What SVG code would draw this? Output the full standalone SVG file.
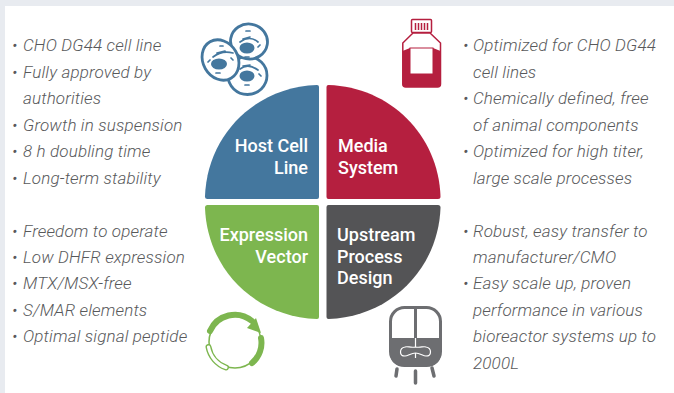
<svg xmlns="http://www.w3.org/2000/svg" width="674" height="393" viewBox="0 0 674 393">
<style>
.t{font-family:Roboto,"Liberation Sans",sans-serif;font-style:italic;font-weight:300;font-size:17px;letter-spacing:.15px;fill:#58595b}
.h{font-family:Roboto,"Liberation Sans",sans-serif;font-weight:500;font-size:18px;fill:#fff}
.e{text-anchor:end}
.cs{fill:#fff;stroke:#44779e;stroke-width:2.800}
.cn{fill:#44779e}
.co{fill:none;stroke:#44779e;stroke-width:1.700;stroke-linecap:round}
.pl{fill:none;stroke:#7db64f}
</style>
<rect width="674" height="393" fill="#e8ebf0"/>
<rect x="5" y="6" width="669" height="387" fill="#fff"/>
<g id="quadrant-host"><path d="M317 85Q319 85 319 87V197Q319 199 317 199H207.500Q205 199 205 196.500C207 135 255 87 317 85Z" fill="#44779e"/>
<text class="h e" x="308" y="152">Host Cell</text><text class="h e" x="308" y="174">Line</text></g>
<g id="quadrant-media"><path d="M328.500 85Q326.500 85 326.500 87V197Q326.500 199 328.500 199H438Q440.500 199 440.500 196.500C438.500 135 390 87 328.500 85Z" fill="#b51f3f"/>
<text class="h" x="338" y="152">Media</text><text class="h" x="338" y="174">System</text></g>
<g id="quadrant-vector"><path d="M317 319Q319 319 319 317V207Q319 205 317 205H207.500Q205 205 205 207.500C207 269 255 317 317 319Z" fill="#7db64f"/>
<text class="h e" x="308" y="241">Expression</text><text class="h e" x="308" y="263">Vector</text></g>
<g id="quadrant-upstream"><path d="M328.500 319Q326.500 319 326.500 317V207Q326.500 205 328.500 205H438Q440.500 205 440.500 207.500C438.500 269 390 317 328.500 319Z" fill="#545456"/>
<text class="h" x="337" y="241">Upstream</text><text class="h" x="337" y="263">Process</text><text class="h" x="337" y="284">Design</text></g>
<g id="text-host">
<text class="t" x="12" y="51">• <tspan x="23">CHO DG44 cell line</tspan></text><text class="t" x="12" y="78">• <tspan x="23">Fully approved by</tspan></text><text class="t" x="23" y="104">authorities</text><text class="t" x="12" y="131">• <tspan x="23">Growth in suspension</tspan></text><text class="t" x="12" y="157">• <tspan x="23">8 h doubling time</tspan></text><text class="t" x="12" y="184">• <tspan x="23">Long-term stability</tspan></text></g>
<g id="text-vector">
<text class="t" x="12" y="237">• <tspan x="23">Freedom to operate</tspan></text><text class="t" x="12" y="263">• <tspan x="23">Low DHFR expression</tspan></text><text class="t" x="12" y="289">• <tspan x="23">MTX/MSX-free</tspan></text><text class="t" x="12" y="316">• <tspan x="23">S/MAR elements</tspan></text><text class="t" x="12" y="342">• <tspan x="23">Optimal signal peptide</tspan></text></g>
<g id="text-media">
<text class="t" x="463" y="51">• <tspan x="473">Optimized for CHO DG44</tspan></text><text class="t" x="473" y="78">cell lines</text><text class="t" x="463" y="104">• <tspan x="473">Chemically defined, free</tspan></text><text class="t" x="473" y="131">of animal components</text><text class="t" x="463" y="157">• <tspan x="473">Optimized for high titer,</tspan></text><text class="t" x="473" y="184">large scale processes</text></g>
<g id="text-upstream">
<text class="t" x="463" y="237">• <tspan x="473">Robust, easy transfer to</tspan></text><text class="t" x="473" y="263">manufacturer/CMO</text><text class="t" x="463" y="289">• <tspan x="473">Easy scale up, proven</tspan></text><text class="t" x="473" y="316">performance in various</text><text class="t" x="473" y="342">bioreactor systems up to</text><text class="t" x="473" y="369">2000L</text></g>
<g id="icon-cells">
<ellipse class="cs" cx="247.500" cy="75.500" rx="19.500" ry="19"/>
<ellipse class="cn" cx="247" cy="76" rx="7.500" ry="5.500"/><path class="co" d="M240 69Q248 63 258 70M243 66L250 65M245 85L249 85M259 74L261 76"/>
<ellipse class="cs" cx="249" cy="41.500" rx="18.500" ry="17.500" transform="rotate(10 249 41.500)"/>
<ellipse class="cn" cx="247" cy="48" rx="7.500" ry="5.500"/><path class="co" d="M240 42Q250 35 258 42M243 39L250 37M246 31L250 31M258 47L260 45M245 57L249 57"/>
<ellipse class="cs" cx="220.500" cy="60" rx="17.500" ry="21" transform="rotate(-30 220.500 60)"/>
<ellipse class="cn" cx="219" cy="64" rx="8" ry="5.500"/><path class="co" d="M213 57Q222 50 233 53M217 53L225 51M220 46L223 46M208 62L210 60M216 73L220 73M231 58L233 60"/>
</g>
<g id="icon-bottle">
<rect x="411.500" y="19.500" width="20" height="13" rx="1" fill="#fff" stroke="#b51f3f" stroke-width="1.500"/>
<path d="M415.500 23V30M418.500 23V30M421.500 23V30M424.500 23V30M427.500 23V30" stroke="#b51f3f" stroke-width="1.500"/>
<path d="M413 33L402.800 43V84Q402.800 87 405.800 87H437.500Q440.500 87 440.500 84V43L430 33Z" fill="#fff" stroke="#b51f3f" stroke-width="1.500"/>
<path d="M402.500 51L410 48H433L440.500 51V84Q440.500 87 437.500 87H405.500Q402.500 87 402.500 84Z" fill="#b51f3f"/>
<rect x="410" y="48" width="23" height="26" fill="#fff" stroke="#b51f3f" stroke-width="1"/>
</g>
<g id="icon-plasmid">
<circle class="pl" cx="235" cy="342" r="26" stroke-width="1.500"/>
<path class="pl" d="M210 331A27 27 0 0 1 252 321" stroke-width="6" stroke-linecap="round"/>
<path d="M247 328L256 318 261 333Z" fill="#7db64f"/>
<path class="pl" d="M261 338A26 26 0 0 1 252 363" stroke-width="6" stroke-linecap="round"/>
<path class="pl" d="M208.500 347A27 27 0 0 0 226 367.500" stroke-width="6" stroke-linecap="round"/>
<path d="M208.500 347A27 27 0 0 0 226 367.500" fill="none" stroke="#fff" stroke-width="3.200" stroke-linecap="round"/>
</g>
<g id="icon-reactor">
<rect x="390.500" y="307.500" width="50" height="58" rx="14" fill="#fff" stroke="#6d6e71" stroke-width="3"/>
<path d="M390 338H441V352Q441 366 427 366H404Q390 366 390 352Z" fill="#6d6e71"/>
<path d="M415.500 308V339" stroke="#6d6e71" stroke-width="3"/>
<path d="M415.500 338V347M415.500 353V358" stroke="#fff" stroke-width="1.200"/>
<path d="M415.500 347C410 348 408 346 405 347C399 348 399 356 405 356C408 356 411 353 415.500 353C420 353 423 356 426 356C432 356 432 348 426 347C423 346 421 348 415.500 347Z" fill="none" stroke="#fff" stroke-width="1.200"/>
<path d="M397 369L396 376M415.500 371V383M432 368L434 376" stroke="#6d6e71" stroke-width="3.500" stroke-linecap="round"/>
</g>
</svg>
